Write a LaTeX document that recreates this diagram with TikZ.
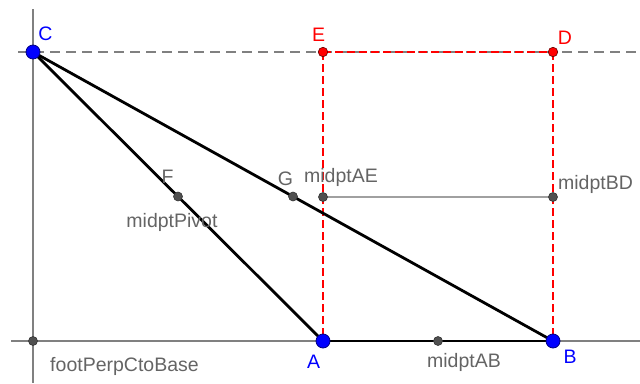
\documentclass[tikz,border=0pt]{standalone}
\usepackage{fontspec}
\setmainfont{Liberation Sans}
\definecolor{axisgray}{HTML}{808080}
\definecolor{lblgray}{HTML}{646464}
\definecolor{ptgray}{HTML}{505050}
\definecolor{segray}{HTML}{A0A0A0}
\begin{document}
\begin{tikzpicture}[x=1pt,y=-1pt,
  lbl/.style={font=\fontsize{19.5}{23}\selectfont,inner sep=0pt,anchor=base},
  gl/.style={lbl,text=lblgray},
  bl/.style={lbl,text=blue},
  rl/.style={lbl,text=red},
  bpt/.style={circle,fill=blue,draw=blue!50!black,line width=0.8pt,minimum size=14pt,inner sep=0pt},
  gpt/.style={circle,fill=ptgray,draw=black!80,line width=0.6pt,minimum size=9pt,inner sep=0pt},
  rpt/.style={circle,fill=red,draw=red!40!black,line width=0.6pt,minimum size=9.5pt,inner sep=0pt},
  axis/.style={axisgray,line width=2.3pt},
  gdash/.style={axisgray,line width=2.3pt,dash pattern=on 10pt off 6pt},
  rdash/.style={red,line width=2.3pt,dash pattern=on 8pt off 4pt},
  seg/.style={black,line width=2.8pt},
  mseg/.style={segray,line width=2.3pt}]
\useasboundingbox (0,0) rectangle (640,383);
% coordinates
\coordinate (Cc) at (33,52);
\coordinate (Ac) at (323,341);
\coordinate (Bc) at (553,341);
\coordinate (Ec) at (323,52);
\coordinate (Dc) at (553,52);
\coordinate (axTop) at (33,9);
\coordinate (axBot) at (33,383);
\coordinate (baseL) at (11,341);
\coordinate (baseR) at (640,341);
\coordinate (dashL) at (18,52);
\coordinate (dashR) at (640,52);
% axes
\draw[axis] (axTop) -- (axBot);
\draw[axis] (baseL) -- (baseR);
\draw[gdash] (dashL) -- (dashR);
% red dashed rectangle sides
\draw[rdash] (Ec) -- (Dc);
\draw[rdash] (Ec) -- (Ac);
\draw[rdash] (Dc) -- (Bc);
% midpoint segment
\coordinate (mAEc) at (323,197);
\coordinate (mBDc) at (553,197);
\draw[mseg] (mAEc) -- (mBDc);
% black triangle
\draw[seg] (Cc) -- (Ac);
\draw[seg] (Cc) -- (Bc);
\draw[seg] (Ac) -- (Bc);
% gray points
\node[gpt] (foot) at (33,341) {};
\node[gpt] (F) at (178,196.5) {};
\node[gpt] (G) at (293,196.5) {};
\node[gpt] (mAE) at (mAEc) {};
\node[gpt] (mBD) at (mBDc) {};
\node[gpt] (mAB) at (438,341) {};
% red points
\node[rpt] (E) at (Ec) {};
\node[rpt] (D) at (Dc) {};
% blue points
\node[bpt] (C) at (Cc) {};
\node[bpt] (A) at (Ac) {};
\node[bpt] (B) at (Bc) {};
% labels
\node[bl] (lC) at (45.5,40) {C};
\node[bl] (lA) at (313.5,368) {A};
\node[bl] (lB) at (570,363) {B};
\node[rl] (lE) at (318.5,41) {E};
\node[rl] (lD) at (565,44) {D};
\node[gl] (lF) at (167.5,183) {F};
\node[gl] (lG) at (285.5,185) {G};
\node[gl] (lPiv) at (172,227) {midptPivot};
\node[gl] (lAE) at (341,182.5) {midptAE};
\node[gl] (lBD) at (595.5,189) {midptBD};
\node[gl] (lfoot) at (124.5,371) {footPerpCtoBase};
\node[gl] (lAB) at (464,367.5) {midptAB};
\end{tikzpicture}
\end{document}
